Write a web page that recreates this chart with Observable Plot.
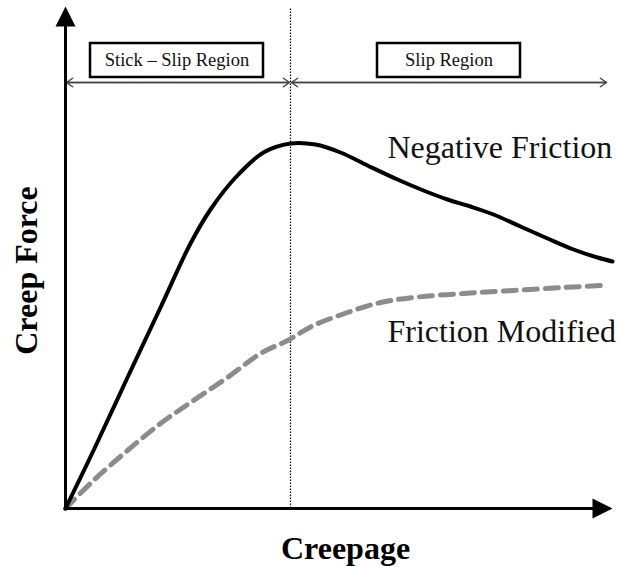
<!DOCTYPE html>
<html>
<head>
<meta charset="utf-8">
<script src="https://cdn.jsdelivr.net/npm/d3@7"></script>
<script src="https://cdn.jsdelivr.net/npm/@observablehq/plot@0.6"></script>
<style>
  html, body { margin: 0; padding: 0; background: white; }
</style>
</head>
<body>
<div id="chart"></div>
<script>
// Series values (arbitrary units)
const seriesNames = ["Negative Friction", "Friction Modified"];
const negCreepage = [0, 28, 62, 95, 125, 145, 170, 198, 225, 250, 275, 302, 332, 358, 382, 405, 428, 455, 482, 508, 532, 547];
const negForce    = [0, 58, 131, 201, 265, 299, 331, 356, 365, 364, 356, 343, 329, 318, 309, 302, 294, 282, 270, 259, 251, 247];
const modCreepage = [0, 28, 62, 95, 128, 162, 195, 222, 248, 282, 315, 348, 398, 448, 498, 537];
const modForce    = [0, 28, 58, 85, 108, 131, 155, 168, 183, 196, 206, 211, 215, 218, 221, 223];

// Regions
const regionNames = ["Stick \u2013 Slip Region", "Slip Region"];
const regionStart = [0, 225];
const regionEnd   = [225, 542];
const boundary = 225;

// Axis titles
const xTitle = "Creepage";
const yTitle = "Creep Force";

const xMax = 547, yMax = 502;

const neg = negCreepage.map((x, i) => ({x, y: negForce[i]}));
const mod = modCreepage.map((x, i) => ({x, y: modForce[i]}));
const regions = regionNames.map((name, i) => ({name, x1: regionStart[i], x2: regionEnd[i]}));

// Annotation layout (data units)
const arrowY = 426;
const boxes = [
  {name: regionNames[0], x1: 25, x2: 198},
  {name: regionNames[1], x1: 312, x2: 455}
];
const boxY1 = 431, boxY2 = 465;

const arrowHead = {
  draw(ctx) {
    ctx.moveTo(0, 0);
    ctx.lineTo(-10, 20);
    ctx.lineTo(10, 20);
    ctx.closePath();
  }
};

const serif = "'Liberation Serif', 'Times New Roman', serif";

const chart = Plot.plot({
  width: 619,
  height: 567,
  marginLeft: 65,
  marginRight: 7,
  marginTop: 6,
  marginBottom: 59,
  style: {fontFamily: serif, background: "white", color: "black"},
  x: {domain: [0, xMax], axis: null},
  y: {domain: [0, yMax], axis: null},
  marks: [
    // vertical dotted boundary
    Plot.ruleX([boundary], {y1: 0, y2: yMax - 1, stroke: "black", strokeWidth: 1.2, strokeDasharray: "1.5,1.5"}),
    // region double-headed arrows
    Plot.arrow(regions, {x1: d => d.x1 + 1, x2: d => d.x2 - 1, y1: arrowY, y2: arrowY, stroke: "#444", strokeWidth: 1.4, headLength: 8, headAngle: 70}),
    Plot.arrow(regions, {x1: d => d.x2 - 1, x2: d => d.x1 + 1, y1: arrowY, y2: arrowY, stroke: "#444", strokeWidth: 1.4, headLength: 8, headAngle: 70}),
    // boxes
    Plot.rect(boxes, {x1: "x1", x2: "x2", y1: boxY1, y2: boxY2, fill: "white", stroke: "black", strokeWidth: 2.5}),
    Plot.text(boxes, {x: d => (d.x1 + d.x2) / 2, y: (boxY1 + boxY2) / 2, text: "name", fontSize: 18.5, fill: "#111", fontFamily: serif}),
    // curves
    Plot.line(mod, {x: "x", y: "y", stroke: "#8c8c8c", strokeWidth: 5, strokeDasharray: "13,8", curve: "catmull-rom"}),
    Plot.line(neg, {x: "x", y: "y", stroke: "black", strokeWidth: 4, curve: "catmull-rom"}),
    // curve labels
    Plot.text([seriesNames[0]], {x: 322, y: 361, text: d => d, textAnchor: "start", fontSize: 32, fill: "#111", fontFamily: serif}),
    Plot.text([seriesNames[1]], {x: 322, y: 177, text: d => d, textAnchor: "start", fontSize: 32, fill: "#111", fontFamily: serif}),
    // axes
    Plot.ruleX([0], {y1: 0, y2: yMax - 15, stroke: "black", strokeWidth: 3}),
    Plot.ruleY([0], {x1: 0, x2: xMax - 15, stroke: "black", strokeWidth: 3}),
    Plot.dot([{x: 0, y: yMax}], {x: "x", y: "y", symbol: arrowHead, fill: "black", stroke: "none", r: 5}),
    Plot.dot([{x: xMax, y: 0}], {x: "x", y: "y", symbol: arrowHead, fill: "black", stroke: "none", r: 5, rotate: 90}),
    // axis titles
    Plot.text([xTitle], {frameAnchor: "bottom", text: d => d, textAnchor: "middle", lineAnchor: "middle", dx: 6.5, dy: 40, fontSize: 32, fontWeight: "bold", fill: "black", fontFamily: serif}),
    Plot.text([yTitle], {frameAnchor: "left", text: d => d, textAnchor: "middle", lineAnchor: "middle", dx: -38.5, dy: 13, rotate: -90, fontSize: 32, fontWeight: "bold", fill: "black", fontFamily: serif})
  ]
});
document.getElementById("chart").appendChild(chart);
</script>
</body>
</html>
